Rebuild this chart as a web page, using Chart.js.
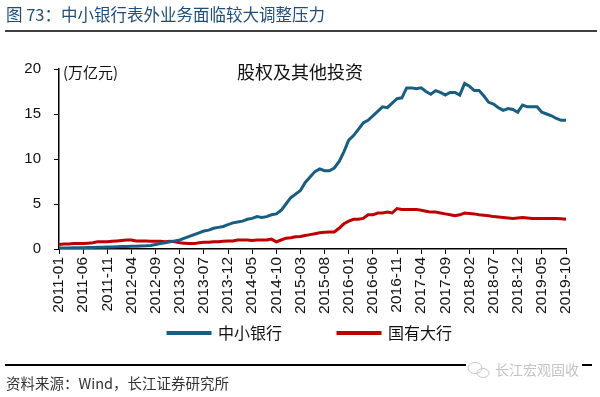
<!DOCTYPE html>
<html>
<head>
<meta charset="utf-8">
<script src="https://cdn.jsdelivr.net/npm/chart.js@4.4.1/dist/chart.umd.min.js"></script>
<style>
  html, body { margin: 0; padding: 0; background: #fff; }
  #wrap { width: 600px; height: 397px; position: relative; }
</style>
</head>
<body>
<div id="wrap"><canvas id="chart"></canvas></div>
<script>
// months, 2011-01 .. 2019-10
const months = [
  '2011-01','2011-02','2011-03','2011-04','2011-05','2011-06','2011-07','2011-08','2011-09','2011-10','2011-11','2011-12',
  '2012-01','2012-02','2012-03','2012-04','2012-05','2012-06','2012-07','2012-08','2012-09','2012-10','2012-11','2012-12',
  '2013-01','2013-02','2013-03','2013-04','2013-05','2013-06','2013-07','2013-08','2013-09','2013-10','2013-11','2013-12',
  '2014-01','2014-02','2014-03','2014-04','2014-05','2014-06','2014-07','2014-08','2014-09','2014-10','2014-11','2014-12',
  '2015-01','2015-02','2015-03','2015-04','2015-05','2015-06','2015-07','2015-08','2015-09','2015-10','2015-11','2015-12',
  '2016-01','2016-02','2016-03','2016-04','2016-05','2016-06','2016-07','2016-08','2016-09','2016-10','2016-11','2016-12',
  '2017-01','2017-02','2017-03','2017-04','2017-05','2017-06','2017-07','2017-08','2017-09','2017-10','2017-11','2017-12',
  '2018-01','2018-02','2018-03','2018-04','2018-05','2018-06','2018-07','2018-08','2018-09','2018-10','2018-11','2018-12',
  '2019-01','2019-02','2019-03','2019-04','2019-05','2019-06','2019-07','2019-08','2019-09','2019-10'
];

// 中小银行 (万亿元)
const smallBanks = [
  0.10, 0.10, 0.12, 0.13, 0.15, 0.15, 0.17, 0.18, 0.20, 0.20,
  0.22, 0.23, 0.25, 0.27, 0.28, 0.30, 0.30, 0.32, 0.35, 0.40,
  0.50, 0.60, 0.70, 0.80, 0.90, 1.00, 1.20, 1.40, 1.60, 1.80,
  2.00, 2.10, 2.30, 2.40, 2.50, 2.70, 2.90, 3.00, 3.10, 3.30,
  3.40, 3.60, 3.50, 3.60, 3.80, 3.90, 4.30, 5.00, 5.70, 6.10,
  6.50, 7.40, 8.00, 8.60, 8.90, 8.70, 8.70, 9.00, 9.70, 10.8,
  12.1, 12.6, 13.3, 14.0, 14.3, 14.8, 15.3, 15.8, 15.7, 16.2,
  16.7, 16.8, 17.9, 17.9, 17.8, 17.9, 17.5, 17.2, 17.6, 17.4,
  17.1, 17.4, 17.4, 17.1, 18.4, 18.1, 17.6, 17.6, 17.0, 16.3,
  16.1, 15.7, 15.4, 15.6, 15.5, 15.2, 16.0, 15.8, 15.8, 15.8,
  15.2, 15.0, 14.8, 14.5, 14.3, 14.3
];

// 国有大行 (万亿元)
const bigBanks = [
  0.50, 0.55, 0.55, 0.60, 0.60, 0.60, 0.65, 0.70, 0.80, 0.80,
  0.80, 0.85, 0.90, 0.95, 1.00, 1.00, 0.90, 0.90, 0.90, 0.85,
  0.85, 0.85, 0.80, 0.85, 0.80, 0.70, 0.65, 0.60, 0.60, 0.70,
  0.75, 0.75, 0.80, 0.80, 0.85, 0.90, 0.90, 1.00, 1.00, 1.00,
  0.95, 1.00, 1.00, 1.00, 1.10, 0.80, 1.00, 1.20, 1.25, 1.35,
  1.40, 1.50, 1.60, 1.70, 1.80, 1.85, 1.90, 1.90, 2.30, 2.80,
  3.10, 3.30, 3.30, 3.40, 3.80, 3.80, 4.00, 4.00, 4.10, 4.00,
  4.50, 4.40, 4.40, 4.40, 4.40, 4.30, 4.20, 4.10, 4.10, 4.00,
  3.90, 3.80, 3.70, 3.80, 4.00, 3.95, 3.90, 3.80, 3.75, 3.70,
  3.60, 3.55, 3.50, 3.45, 3.40, 3.45, 3.50, 3.45, 3.40, 3.40,
  3.40, 3.40, 3.40, 3.40, 3.35, 3.30
];

const yTicks = [0, 5, 10, 15, 20];
const labelEvery = 5;

const cjk = "'Noto Sans CJK SC', 'Noto Sans', sans-serif";
const latin = "'Liberation Sans', Arial, sans-serif";

// the legend sits under the rotated month labels, a bit right of centre
const legendNudge = {
  id: 'legendNudge',
  afterLayout(chart) {
    const lg = chart.legend;
    lg.top -= 46; lg.bottom -= 46;
    lg.left += 27; lg.right += 27;
  }
};

// title, rules, unit, source - everything that isn't the chart itself
const decorations = {
  id: 'decorations',
  afterDraw(chart) {
    const ctx = chart.ctx;
    ctx.save();
    ctx.textBaseline = 'middle';

    ctx.fillStyle = '#1F4E79';
    ctx.font = '16.5px ' + cjk;
    ctx.textAlign = 'left';
    ctx.fillText('图 73：中小银行表外业务面临较大调整压力', 6, 15);

    ctx.strokeStyle = '#000';
    ctx.lineWidth = 1.5;
    ctx.beginPath(); ctx.moveTo(5, 31); ctx.lineTo(597, 31); ctx.stroke();
    ctx.lineWidth = 2;
    ctx.beginPath(); ctx.moveTo(5, 365); ctx.lineTo(592, 365); ctx.stroke();

    ctx.fillStyle = '#111';
    ctx.font = '15px ' + cjk;
    ctx.fillText('(万亿元)', 63, 72);

    ctx.font = '18px ' + cjk;
    ctx.textAlign = 'center';
    ctx.fillText('股权及其他投资', 300, 72);

    ctx.textAlign = 'left';
    ctx.fillStyle = '#333';
    ctx.font = '14.5px ' + cjk;
    ctx.fillText('资料来源：Wind，长江证券研究所', 6, 383);

    // faint watermark over the bottom rule
    ctx.fillStyle = '#fff';
    ctx.fillRect(466, 362, 116, 16);
    ctx.strokeStyle = '#c8c8c8';
    ctx.lineWidth = 1;
    ctx.beginPath(); ctx.ellipse(475, 368, 7, 5.5, 0, 0, Math.PI * 2); ctx.stroke();
    ctx.beginPath(); ctx.ellipse(483, 373, 6, 4.5, 0, 0, Math.PI * 2); ctx.stroke();
    ctx.fillStyle = '#c4c4c4';
    ctx.font = '14px ' + cjk;
    ctx.fillText('长江宏观固收', 495, 370);
    ctx.restore();
  }
};

const ctx = document.getElementById('chart').getContext('2d');
const chart = new Chart(ctx, {
  type: 'line',
  data: {
    labels: months,
    datasets: [
      {
        label: '中小银行',
        data: smallBanks,
        borderColor: '#175E82',
        backgroundColor: '#175E82',
        borderWidth: 3,
        pointRadius: 0,
        tension: 0
      },
      {
        label: '国有大行',
        data: bigBanks,
        borderColor: '#C00000',
        backgroundColor: '#C00000',
        borderWidth: 3,
        pointRadius: 0,
        tension: 0
      }
    ]
  },
  options: {
    responsive: true,
    maintainAspectRatio: false,
    animation: false,
    layout: { padding: { top: 69, left: 0, right: 34, bottom: 0 } },
    plugins: {
      tooltip: { enabled: false },
      legend: {
        position: 'bottom',
        labels: {
          boxWidth: 42,
          boxHeight: 1,
          padding: 56,
          color: '#111',
          font: { family: cjk, size: 16 }
        }
      }
    },
    scales: {
      x: {
        afterFit(scale) { scale.height = 66; },
        afterBuildTicks(scale) {
          scale.ticks = scale.ticks.filter(t => t.value % labelEvery === 0);
        },
        grid: { drawOnChartArea: false, drawTicks: true, tickLength: 5, color: '#000' },
        border: { color: '#000', width: 1.5 },
        ticks: {
          autoSkip: false,
          maxRotation: 90,
          minRotation: 90,
          padding: 3,
          color: '#111',
          font: { family: latin, size: 15.5 }
        }
      },
      y: {
        min: 0,
        max: 20,
        afterFit(scale) { scale.width = 59; },
        afterBuildTicks(scale) {
          scale.ticks = yTicks.map(v => ({ value: v }));
        },
        grid: { drawOnChartArea: false, drawTicks: true, tickLength: 5, color: '#000' },
        border: { color: '#000', width: 1.5 },
        ticks: {
          padding: 13,
          color: '#111',
          font: { family: latin, size: 15 }
        }
      }
    }
  },
  plugins: [legendNudge, decorations]
});
</script>
</body>
</html>
